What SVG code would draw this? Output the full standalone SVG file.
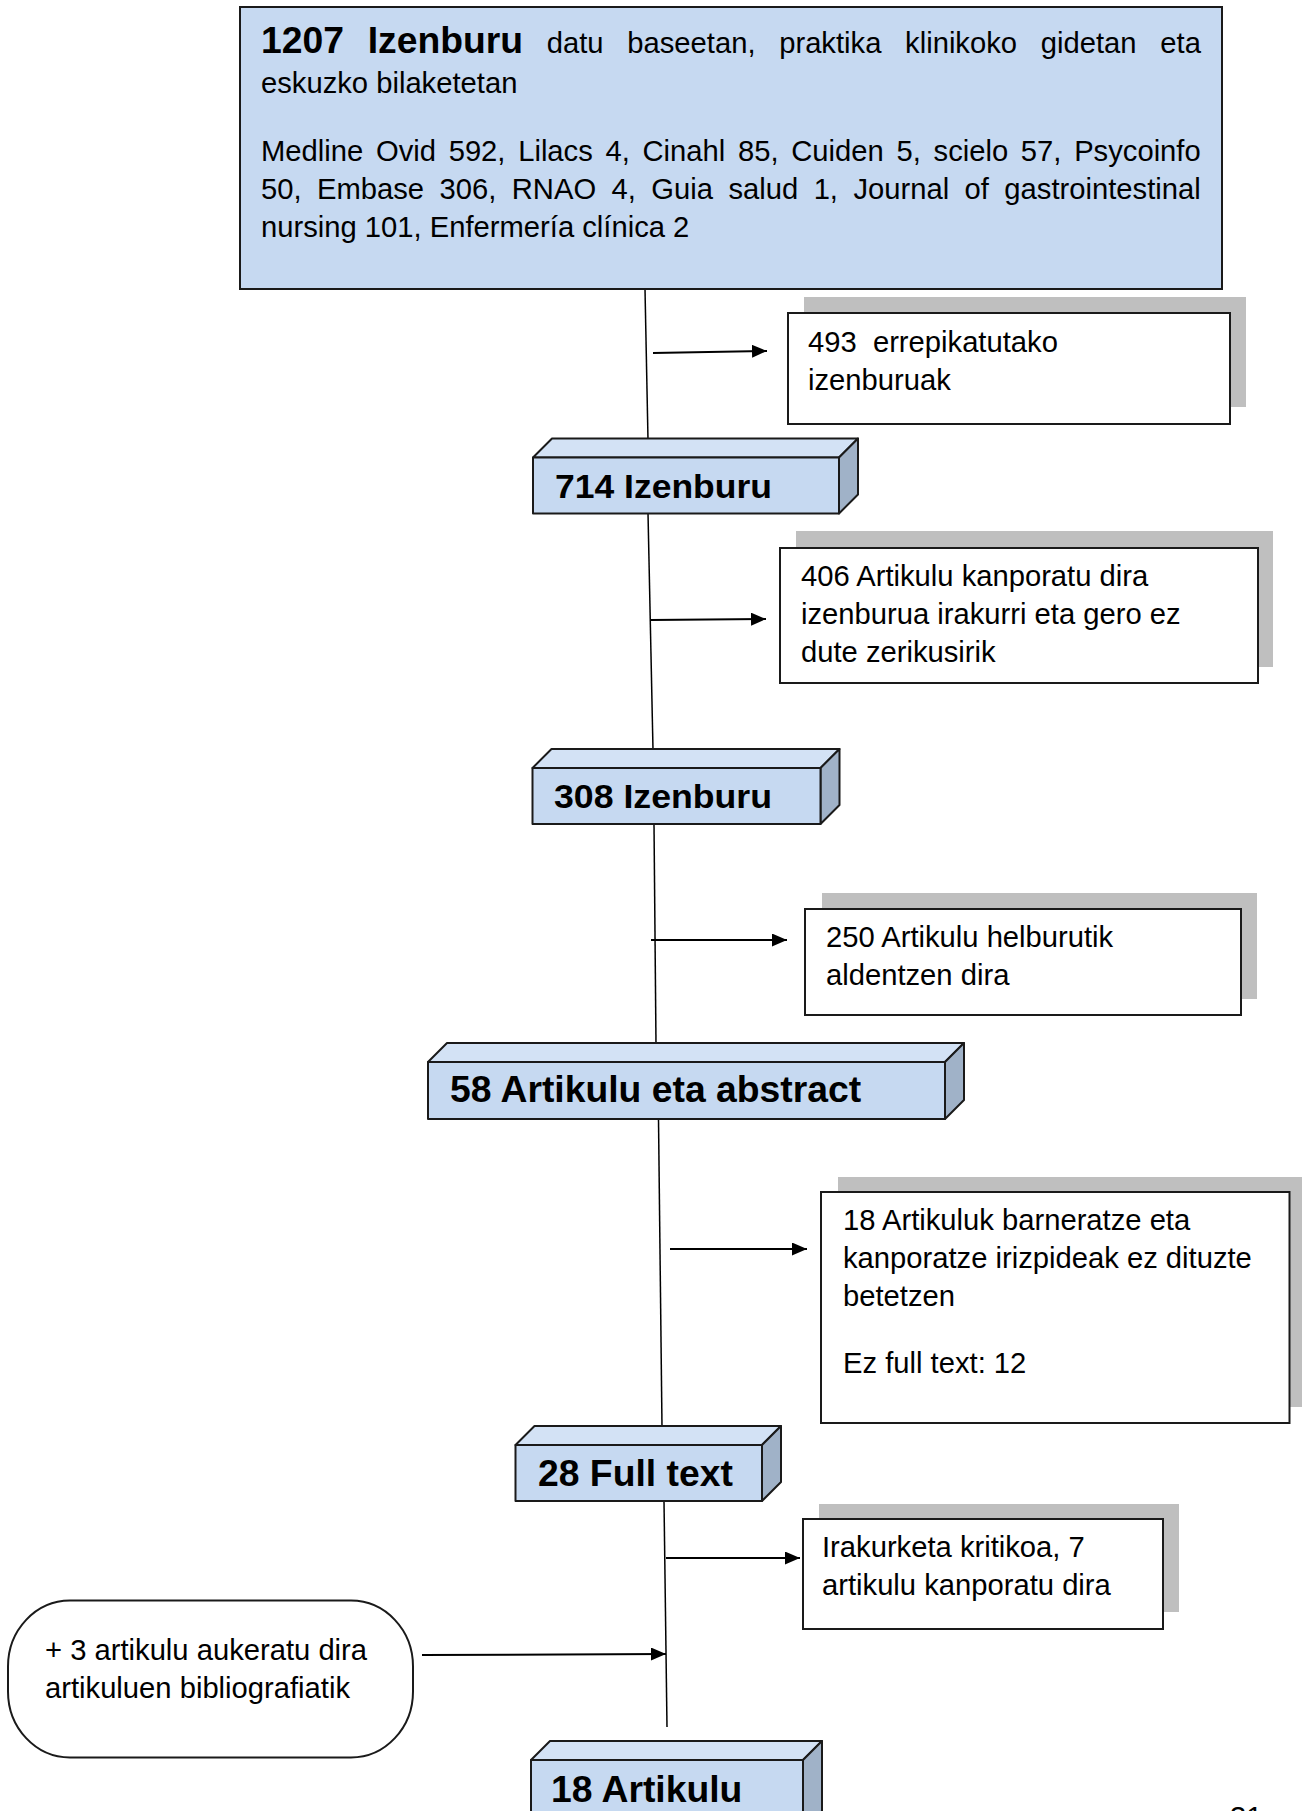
<svg xmlns="http://www.w3.org/2000/svg" width="1302" height="1811" viewBox="0 0 1302 1811">
<style>
  .t { font-family: "Liberation Sans", Arial, sans-serif; font-size: 29.2px; fill: #000; }
  .b { font-family: "Liberation Sans", Arial, sans-serif; font-weight: bold; font-size: 37.3px; fill: #000; }
  .bc { font-family: "Liberation Sans", Arial, sans-serif; font-weight: bold; font-size: 33px; fill: #000; }
  .box { fill: #fff; stroke: #1a1a1a; stroke-width: 2; }
  .shadow { fill: #bfbfbf; stroke: none; }
  .front { fill: #c6d9f1; stroke: #1a1a1a; stroke-width: 2; stroke-linejoin: round; }
  .top { fill: #d3e2f5; stroke: #1a1a1a; stroke-width: 2; stroke-linejoin: round; }
  .side { fill: #a0b2c8; stroke: #1a1a1a; stroke-width: 2; stroke-linejoin: round; }
  .vline { stroke: #000; stroke-width: 1.5; fill: none; }
  .arrow { stroke: #000; stroke-width: 2; fill: none; marker-end: url(#ah); }
</style>
<defs>
  <marker id="ah" markerUnits="userSpaceOnUse" markerWidth="16" markerHeight="14" refX="15" refY="6.5" orient="auto">
    <path d="M0,0 L15,6.5 L0,13 Z" fill="#000"/>
  </marker>
</defs>
<rect width="1302" height="1811" fill="#fff"/>

<g id="connectors">
  <line class="vline" x1="645" y1="289" x2="648" y2="440"/>
  <line class="vline" x1="648" y1="513" x2="653" y2="750"/>
  <line class="vline" x1="654" y1="824" x2="656" y2="1044"/>
  <line class="vline" x1="658.5" y1="1119" x2="662" y2="1427"/>
  <line class="vline" x1="664" y1="1501" x2="667" y2="1727"/>
  <line class="arrow" x1="653" y1="353" x2="767" y2="351"/>
  <line class="arrow" x1="651" y1="620" x2="766" y2="619"/>
  <line class="arrow" x1="651" y1="940" x2="787" y2="940"/>
  <line class="arrow" x1="670" y1="1249" x2="807" y2="1249"/>
  <line class="arrow" x1="666" y1="1558" x2="800" y2="1558"/>
  <line class="arrow" x1="422" y1="1655" x2="666" y2="1654"/>
</g>

<g id="n-1207">
  <rect x="240" y="7" width="982" height="282" fill="#c6d9f1" stroke="#1a1a1a" stroke-width="2"/>
  <text y="53"><tspan class="b" x="261">1207</tspan><tspan class="b" x="367.7">Izenburu</tspan><tspan class="t" x="546.8">datu</tspan><tspan class="t" x="627.3">baseetan,</tspan><tspan class="t" x="779.2">praktika</tspan><tspan class="t" x="905.1">klinikoko</tspan><tspan class="t" x="1040.8">gidetan</tspan><tspan class="t" x="1160.3">eta</tspan></text>
  <text class="t" x="261" y="93">eskuzko bilaketetan</text>
  <text class="t" x="261" y="161" style="word-spacing:4.6px">Medline Ovid 592, Lilacs 4, Cinahl 85, Cuiden 5, scielo 57, Psycoinfo</text>
  <text class="t" x="261" y="199" style="word-spacing:7.33px">50, Embase 306, RNAO 4, Guia salud 1, Journal of gastrointestinal</text>
  <text class="t" x="261" y="237">nursing 101, Enfermería clínica 2</text>
</g>

<g id="n-493">
  <rect class="shadow" x="804" y="297" width="442" height="110"/>
  <rect class="box" x="788" y="313" width="442" height="111"/>
  <text class="t" x="808" y="352" xml:space="preserve">493  errepikatutako</text>
  <text class="t" x="808" y="390">izenburuak</text>
</g>

<g id="n-714">
  <polygon class="top" points="533,457.5 552,438.5 858,438.5 839,457.5"/>
  <polygon class="side" points="839,457.5 858,438.5 858,494.5 839,513.5"/>
  <rect class="front" x="533" y="457.5" width="306" height="56"/>
  <text class="bc" x="555" y="498" textLength="217" lengthAdjust="spacingAndGlyphs">714 Izenburu</text>
</g>

<g id="n-406">
  <rect class="shadow" x="796" y="531" width="477" height="136"/>
  <rect class="box" x="780" y="548" width="478" height="135"/>
  <text class="t" x="801" y="586">406 Artikulu kanporatu dira</text>
  <text class="t" x="801" y="624">izenburua irakurri eta gero ez</text>
  <text class="t" x="801" y="662">dute zerikusirik</text>
</g>

<g id="n-308">
  <polygon class="top" points="532.5,768 551.5,749 839.5,749 820.5,768"/>
  <polygon class="side" points="820.5,768 839.5,749 839.5,805 820.5,824"/>
  <rect class="front" x="532.5" y="768" width="288" height="56"/>
  <text class="bc" x="554" y="808" textLength="218" lengthAdjust="spacingAndGlyphs">308 Izenburu</text>
</g>

<g id="n-250">
  <rect class="shadow" x="822" y="893" width="435" height="106"/>
  <rect class="box" x="805" y="909" width="436" height="106"/>
  <text class="t" x="826" y="947">250 Artikulu helburutik</text>
  <text class="t" x="826" y="985">aldentzen dira</text>
</g>

<g id="n-58">
  <polygon class="top" points="428,1062 447,1043 964,1043 945,1062"/>
  <polygon class="side" points="945,1062 964,1043 964,1100 945,1119"/>
  <rect class="front" x="428" y="1062" width="517" height="57"/>
  <text class="b" x="450" y="1102">58 Artikulu eta abstract</text>
</g>

<g id="n-18excl">
  <rect class="shadow" x="838" y="1177" width="480" height="230"/>
  <rect class="box" x="821" y="1192" width="468.5" height="231"/>
  <text class="t" x="843" y="1230">18 Artikuluk barneratze eta</text>
  <text class="t" x="843" y="1268">kanporatze irizpideak ez dituzte</text>
  <text class="t" x="843" y="1306">betetzen</text>
  <text class="t" x="843" y="1373">Ez full text: 12</text>
</g>

<g id="n-28">
  <polygon class="top" points="515.5,1445 534.5,1426 781,1426 762,1445"/>
  <polygon class="side" points="762,1445 781,1426 781,1482 762,1501"/>
  <rect class="front" x="515.5" y="1445" width="246.5" height="56"/>
  <text class="b" x="538" y="1486">28 Full text</text>
</g>

<g id="n-critical">
  <rect class="shadow" x="819" y="1504" width="360" height="108"/>
  <rect class="box" x="803" y="1519" width="360" height="110"/>
  <text class="t" x="822" y="1557">Irakurketa kritikoa, 7</text>
  <text class="t" x="822" y="1595">artikulu kanporatu dira</text>
</g>

<g id="n-plus3">
  <rect x="8" y="1600.5" width="405" height="157" rx="62" ry="66" fill="#fff" stroke="#1a1a1a" stroke-width="2"/>
  <text class="t" x="45" y="1660">+ 3 artikulu aukeratu dira</text>
  <text class="t" x="45" y="1698">artikuluen bibliografiatik</text>
</g>

<g id="n-18">
  <polygon class="top" points="531,1760 550,1741 822,1741 803,1760"/>
  <polygon class="side" points="803,1760 822,1741 822,1811 803,1830"/>
  <rect class="front" x="531" y="1760" width="272" height="70"/>
  <text class="b" x="551" y="1802">18 Artikulu</text>
</g>

<text class="t" x="1230" y="1827">31</text>
</svg>
